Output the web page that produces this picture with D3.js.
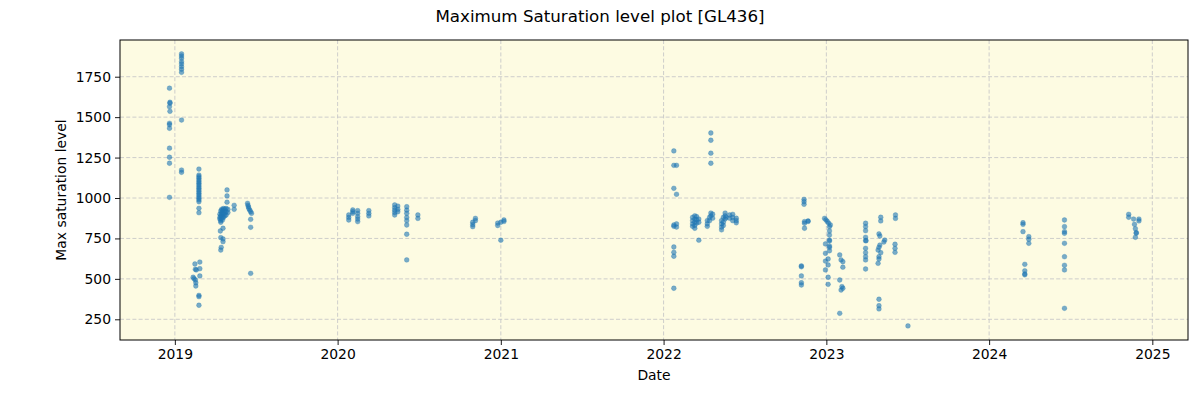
<!DOCTYPE html>
<html>
<head>
<meta charset="utf-8">
<script src="https://cdn.jsdelivr.net/npm/d3@7"></script>
<style>
  html, body { margin: 0; padding: 0; background: #ffffff; }
  svg text { font-family: "DejaVu Sans", sans-serif; fill: #000; }
</style>
</head>
<body>
<svg id="chart" width="1200" height="400"></svg>
<script>
// ---- data ----
const title = "Maximum Saturation level plot [GL436]";
const xLabel = "Date";
const yLabel = "Max saturation level";
const yTicks = [250, 500, 750, 1000, 1250, 1500, 1750];
const xTickYears = [2019, 2020, 2021, 2022, 2023, 2024, 2025];
const xDomain = ["2018-08-31", "2025-03-22"];
const yDomain = [122, 1977];

const dates = [
  // Dec 2018
  "2018-12-20","2018-12-21","2018-12-21","2018-12-20","2018-12-21","2018-12-20","2018-12-20","2018-12-20","2018-12-20","2018-12-20","2018-12-20","2018-12-20",
  // Jan 2019
  "2019-01-16","2019-01-16","2019-01-16","2019-01-16","2019-01-16","2019-01-16","2019-01-16","2019-01-16","2019-01-16","2019-01-16","2019-01-16",
  // Feb 2019 column
  "2019-02-24","2019-02-24","2019-02-24","2019-02-24","2019-02-24","2019-02-24","2019-02-24","2019-02-24","2019-02-24","2019-02-24",
  "2019-02-24","2019-02-24","2019-02-24","2019-02-24","2019-02-24","2019-02-24","2019-02-24","2019-02-24","2019-02-24","2019-02-24",
  // Feb 2019 low
  "2019-02-26","2019-02-15","2019-02-26","2019-02-16","2019-02-18","2019-02-26","2019-02-11","2019-02-13","2019-02-16","2019-02-17","2019-02-17","2019-02-24","2019-02-24","2019-02-24",
  // Apr 2019
  "2019-04-28","2019-04-28","2019-04-28",
  "2019-04-12","2019-04-12","2019-04-12","2019-04-14","2019-04-14","2019-04-14","2019-04-14",
  "2019-04-16","2019-04-16","2019-04-16","2019-04-16","2019-04-18","2019-04-18","2019-04-18","2019-04-18",
  "2019-04-20","2019-04-20","2019-04-20","2019-04-20","2019-04-23","2019-04-23","2019-04-23",
  "2019-04-26","2019-04-26","2019-04-26","2019-04-30","2019-04-30",
  "2019-04-13","2019-04-19","2019-04-14","2019-04-19","2019-04-19","2019-04-15","2019-04-14",
  "2019-05-14","2019-05-14",
  // Jun 2019
  "2019-06-13","2019-06-14","2019-06-15","2019-06-16","2019-06-18","2019-06-20","2019-06-22","2019-06-20","2019-06-20","2019-06-20",
  // 2020
  "2020-01-26","2020-01-26","2020-01-26","2020-02-04","2020-02-04","2020-02-04",
  "2020-02-15","2020-02-15","2020-02-15","2020-02-15","2020-02-15","2020-03-11","2020-03-11","2020-03-11",
  "2020-05-08","2020-05-08","2020-05-08","2020-05-08","2020-05-08","2020-05-15","2020-05-15","2020-05-15",
  "2020-06-04","2020-06-04","2020-06-04","2020-06-04","2020-06-04","2020-06-04","2020-06-04","2020-06-04",
  "2020-06-29","2020-06-29","2020-10-30","2020-10-30","2020-10-30","2020-11-05","2020-11-05",
  "2020-12-25","2020-12-25","2021-01-01","2021-01-01","2021-01-08","2021-01-08",
  // 2022
  "2022-01-24","2022-01-24","2022-01-24","2022-01-24","2022-01-24","2022-01-24","2022-01-24","2022-01-24","2022-01-24",
  "2022-01-30","2022-01-30","2022-01-30","2022-01-30",
  "2022-03-07","2022-03-07","2022-03-07","2022-03-07","2022-03-12","2022-03-12","2022-03-12","2022-03-12","2022-03-12",
  "2022-03-16","2022-03-16","2022-03-16","2022-03-21","2022-03-21","2022-03-21",
  "2022-04-09","2022-04-09","2022-04-09","2022-04-14","2022-04-14",
  "2022-04-17","2022-04-17","2022-04-17","2022-04-17","2022-04-17","2022-04-17","2022-04-21","2022-04-21",
  "2022-05-11","2022-05-11","2022-05-11","2022-05-11","2022-05-15","2022-05-15","2022-05-15",
  "2022-05-19","2022-05-19","2022-05-19","2022-05-21",
  "2022-05-29","2022-05-29","2022-06-05","2022-06-05","2022-06-05","2022-06-13","2022-06-13","2022-06-13",
  // late 2022 / 2023
  "2022-11-12","2022-11-12","2022-11-12","2022-11-13","2022-11-13","2022-11-13","2022-11-21","2022-11-21",
  "2022-11-06","2022-11-06","2022-11-06","2022-11-06","2022-11-06",
  "2022-12-28","2022-12-31","2023-01-03","2023-01-06","2023-01-10",
  "2023-01-08","2023-01-08","2023-01-08","2023-01-08","2023-01-08","2023-01-08","2023-01-08","2023-01-08",
  "2022-12-30","2022-12-30","2022-12-30","2022-12-30",
  "2023-01-05","2023-01-05","2023-01-05","2023-01-05",
  "2023-01-31","2023-02-03","2023-02-07","2023-02-07","2023-01-31","2023-02-05","2023-02-07","2023-02-03","2023-01-31",
  "2023-03-30","2023-03-30","2023-03-30","2023-03-30","2023-03-30","2023-03-31","2023-03-30","2023-03-30","2023-03-30","2023-03-30","2023-03-30",
  "2023-05-03","2023-05-03","2023-04-29","2023-05-01","2023-05-12","2023-05-10","2023-05-01","2023-04-29","2023-04-27","2023-05-03","2023-04-29","2023-04-29","2023-04-27","2023-04-29","2023-04-29","2023-04-29",
  "2023-06-05","2023-06-05","2023-06-04","2023-06-04","2023-06-04",
  "2023-07-03",
  // 2024
  "2024-03-17","2024-03-17","2024-03-17","2024-03-30","2024-03-30","2024-03-30",
  "2024-03-21","2024-03-21","2024-03-21","2024-03-21",
  "2024-06-18","2024-06-18","2024-06-18","2024-06-18","2024-06-18","2024-06-18","2024-06-18","2024-06-18","2024-06-18",
  "2024-11-09","2024-11-09","2024-11-20","2024-11-22","2024-11-24","2024-11-26","2024-11-24","2024-11-26",
  "2024-12-02","2024-12-02"
];

const values = [
  // Dec 2018
  1679,1592,1586,1565,1536,1462,1453,1431,1308,1252,1215,1004,
  // Jan 2019
  1891,1878,1864,1843,1829,1812,1796,1777,1482,1173,1159,
  // Feb 2019 column
  1179,1142,1132,1122,1111,1101,1091,1081,1070,1060,
  1050,1040,1029,1019,1008,998,988,977,936,909,
  // Feb 2019 low
  604,592,563,559,555,518,510,501,493,476,456,398,390,337,
  // Apr 2019
  1050,1013,974,
  900,880,870,920,890,860,850,
  930,910,895,875,925,905,885,865,
  935,915,900,880,930,910,890,
  935,915,895,930,910,
  796,813,755,747,730,695,678,
  955,930,
  // Jun 2019
  967,955,945,935,925,915,905,868,819,534,
  // 2020
  895,880,864,926,915,905,
  922,905,885,870,854,922,905,889,
  957,940,925,910,895,950,930,915,
  946,925,905,880,860,833,776,617,
  895,874,850,835,823,874,860,
  845,830,850,739,864,855,
  // 2022
  1291,1202,1060,833,825,697,664,640,442,
  1202,1023,840,820,
  880,860,840,825,890,870,850,830,813,
  885,865,845,739,870,850,
  860,840,825,880,860,
  1402,1357,1277,1215,907,890,900,875,
  860,840,820,803,880,850,830,
  907,890,870,880,
  895,875,899,880,860,875,860,847,
  // late 2022 / 2023
  992,977,961,854,844,813,858,855,
  580,575,518,476,462,
  874,865,855,845,833,
  823,796,771,740,734,703,695,674,
  716,658,610,555,
  623,586,510,466,
  648,617,606,572,493,452,442,431,287,
  844,823,798,757,736,736,689,662,637,617,561,
  881,858,778,765,740,728,709,695,678,662,637,623,596,374,334,314,
  895,874,714,689,664,
  209,
  // 2024
  847,837,792,761,745,720,
  590,550,530,525,
  864,823,792,782,720,637,584,555,318,
  899,881,870,837,810,786,757,782,
  870,858
];

// ---- layout ----
const svg = d3.select("#chart");
const W = 1200, H = 400;
const m = { left: 120, right: 12, top: 40, bottom: 60 };
const pw = W - m.left - m.right, ph = H - m.top - m.bottom;

const parse = d3.timeParse("%Y-%m-%d");
const x = d3.scaleTime().domain(xDomain.map(parse)).range([m.left, m.left + pw]);
const y = d3.scaleLinear().domain(yDomain).range([m.top + ph, m.top]);

svg.append("rect").attr("x", 0).attr("y", 0).attr("width", W).attr("height", H).attr("fill", "#ffffff");
svg.append("rect").attr("x", m.left).attr("y", m.top).attr("width", pw).attr("height", ph).attr("fill", "#fdfbe2");

const xTickDates = xTickYears.map(yr => new Date(yr, 0, 1));

// grid
const grid = svg.append("g").attr("stroke", "#c8c8c8").attr("stroke-width", 0.9).attr("stroke-dasharray", "4,2.2");
grid.selectAll("line.gx").data(xTickDates).join("line")
  .attr("x1", d => x(d)).attr("x2", d => x(d)).attr("y1", m.top).attr("y2", m.top + ph);
grid.selectAll("line.gy").data(yTicks).join("line")
  .attr("y1", d => y(d)).attr("y2", d => y(d)).attr("x1", m.left).attr("x2", m.left + pw);

// points
svg.append("g").selectAll("circle").data(d3.range(values.length)).join("circle")
  .attr("cx", i => x(parse(dates[i])))
  .attr("cy", i => y(values[i]))
  .attr("r", 2.4)
  .attr("fill", "#1f77b4")
  .attr("fill-opacity", 0.6)
  .attr("stroke", "#1f77b4")
  .attr("stroke-opacity", 0.35)
  .attr("stroke-width", 0.8);

// axes
const xAxis = d3.axisBottom(x).tickValues(xTickDates).tickFormat(d3.timeFormat("%Y")).tickSize(5).tickPadding(4);
const gx = svg.append("g").attr("transform", `translate(0,${m.top + ph})`).call(xAxis);
const yAxis = d3.axisLeft(y).tickValues(yTicks).tickFormat(d3.format("d")).tickSize(5).tickPadding(4);
const gy = svg.append("g").attr("transform", `translate(${m.left},0)`).call(yAxis);
[gx, gy].forEach(g => {
  g.select(".domain").remove();
  g.selectAll("text").attr("font-size", "13.9px").attr("font-family", "DejaVu Sans, sans-serif").attr("fill", "#000");
  g.selectAll("line").attr("stroke", "#000").attr("stroke-width", 0.9);
});

// frame
svg.append("rect").attr("x", m.left).attr("y", m.top).attr("width", pw).attr("height", ph)
  .attr("fill", "none").attr("stroke", "#000").attr("stroke-width", 1);

// labels
svg.append("text").attr("x", 600).attr("y", 22).attr("text-anchor", "middle")
  .attr("font-size", "16.7px").text(title);
svg.append("text").attr("x", m.left + pw / 2).attr("y", 380).attr("text-anchor", "middle")
  .attr("font-size", "13.9px").text(xLabel);
svg.append("text").attr("transform", `translate(66,${m.top + ph / 2}) rotate(-90)`).attr("text-anchor", "middle")
  .attr("font-size", "13.9px").text(yLabel);
</script>
</body>
</html>
